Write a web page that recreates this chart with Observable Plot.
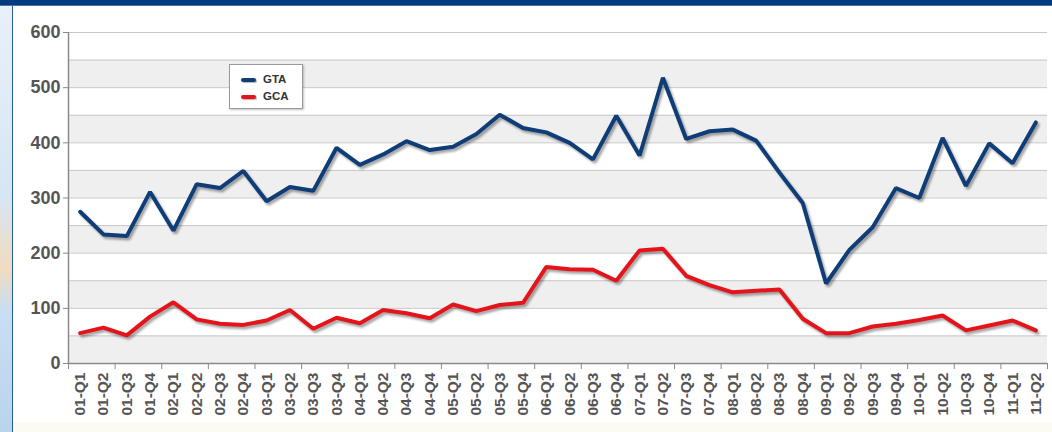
<!DOCTYPE html>
<html>
<head>
<meta charset="utf-8">
<script src="https://cdn.jsdelivr.net/npm/d3@7"></script>
<script src="https://cdn.jsdelivr.net/npm/@observablehq/plot@0.6"></script>
<style>
  html, body { margin: 0; padding: 0; background: #fff; }
  #wrap { position: relative; width: 1052px; height: 432px; overflow: hidden; font-family: "Liberation Sans", Arial, sans-serif; }
  #leftstrip { position: absolute; left: 0; top: 0; width: 12px; height: 432px;
    background: linear-gradient(180deg, #e9f1fa 0%, #d6e6f5 45%, #f1dcc0 62%, #c9def2 72%, #b9d4ee 100%); }
  #panel { position: absolute; left: 12px; top: 6px; width: 1040px; height: 416px; background: #fff; border-left: 1px solid #2b5a96; }
  #bottom { position: absolute; left: 12px; top: 422px; width: 1040px; height: 10px; background: #fcfbf1; border-left: 1px solid #2b5a96; }
  #topbar { position: absolute; left: 0; top: 0; width: 1052px; height: 5px; background: #023a80; border-bottom: 1px solid #4a72a8; }
  #chart { position: absolute; left: 0; top: 0; }
  #legend { position: absolute; left: 229px; top: 64px; width: 74px; height: 45px; background: #fff;
    border: 1px solid #9a9a9a; box-shadow: 1px 1px 2px rgba(0,0,0,0.25); box-sizing: border-box; }
  .item { position: absolute; left: 11px; font: bold 11.5px "Liberation Sans", Arial, sans-serif; color: #333; }
  .sw { display: inline-block; width: 15px; height: 4px; border-radius: 2px; vertical-align: middle; margin-right: 7px; box-shadow: 1px 1px 1px rgba(0,0,0,0.3); }
</style>
</head>
<body>
<div id="wrap">
  <div id="leftstrip"></div>
  <div id="panel"></div>
  <div id="bottom"></div>
  <div id="topbar"></div>
  <div id="chart"></div>
  <div id="legend">
    <div class="item" style="top:8px"><span class="sw" style="background:#0e3d78"></span>GTA</div>
    <div class="item" style="top:25px"><span class="sw" style="background:#e5141b"></span>GCA</div>
  </div>
</div>
<script>
const quarters = ["01-Q1","01-Q2","01-Q3","01-Q4","02-Q1","02-Q2","02-Q3","02-Q4","03-Q1","03-Q2","03-Q3","03-Q4",
  "04-Q1","04-Q2","04-Q3","04-Q4","05-Q1","05-Q2","05-Q3","05-Q4","06-Q1","06-Q2","06-Q3","06-Q4",
  "07-Q1","07-Q2","07-Q3","07-Q4","08-Q1","08-Q2","08-Q3","08-Q4","09-Q1","09-Q2","09-Q3","09-Q4",
  "10-Q1","10-Q2","10-Q3","10-Q4","11-Q1","11-Q2"];
const gta = [275,234,231,311,241,325,318,349,294,320,313,391,
  360,379,403,387,393,416,451,427,419,400,370,449,
  377,518,407,421,424,404,346,291,145,206,247,318,
  300,409,322,399,363,437];
const gca = [55,65,51,85,111,80,72,70,78,97,63,83,
  73,97,91,82,107,95,106,110,175,171,170,150,
  205,208,159,142,129,132,134,81,55,55,67,72,
  79,87,60,69,78,60];
const seriesNames = ["GTA","GCA"];
const seriesColors = ["#0e3d78","#e5141b"];
const yTicks = [0,100,200,300,400,500,600];
const gridValues = [50,100,150,200,250,300,350,400,450,500,550,600];
const bandStarts = [0,100,200,300,400,500];
const bandSize = 50;

const rows = [];
quarters.forEach((q, i) => {
  rows.push({i, q, series: "GTA", value: gta[i]});
  rows.push({i, q, series: "GCA", value: gca[i]});
});
const idx = quarters.map((q, i) => i);
const boundaries = idx.filter(i => i % 2 === 0).map(i => i - 0.5).concat([quarters.length - 0.5]);

const plot = Plot.plot({
  width: 1052,
  height: 432,
  marginLeft: 68,
  marginRight: 5,
  marginTop: 32,
  marginBottom: 69,
  style: {background: "transparent", overflow: "visible", fontFamily: "'Liberation Sans', Arial, sans-serif"},
  x: {type: "linear", domain: [-0.5, quarters.length - 0.5]},
  y: {domain: [0, 600]},
  color: {domain: seriesNames, range: seriesColors},
  marks: [
    Plot.rect(bandStarts, {y1: d => d, y2: d => d + bandSize, fill: "#efefef"}),
    Plot.ruleY(gridValues, {stroke: "#c8c8c8", strokeWidth: 1}),
    Plot.ruleY([0], {stroke: "#8a8a8a", strokeWidth: 1.5}),
    Plot.ruleX([-0.5], {stroke: "#8a8a8a", strokeWidth: 1.5}),
    Plot.axisY({ticks: yTicks, tickSize: 5, tickPadding: 3, stroke: "#8a8a8a", fill: "#555",
      fontSize: 18, fontWeight: "bold", label: null}),
    Plot.axisX(boundaries, {tickSize: 6, tickFormat: () => "", stroke: "#8a8a8a", label: null}),
    Plot.axisX(idx, {tickSize: 0, tickPadding: 9, tickRotate: -90, tickFormat: i => quarters[i],
      fill: "#555", fontSize: 15.5, fontWeight: "bold", label: null}),
    Plot.line(rows, {x: "i", y: "value", z: "series", stroke: "#000", strokeOpacity: 0.35,
      strokeWidth: 4, dx: 2, dy: 2.5, strokeLinejoin: "miter"}),
    Plot.line(rows, {x: "i", y: "value", z: "series", stroke: "series", strokeWidth: 4, strokeLinejoin: "miter"})
  ]
});
const shadow = plot.querySelectorAll('g[aria-label="line"]')[0];
if (shadow) shadow.style.filter = "blur(1.3px)";
document.getElementById("chart").appendChild(plot);
</script>
</body>
</html>
